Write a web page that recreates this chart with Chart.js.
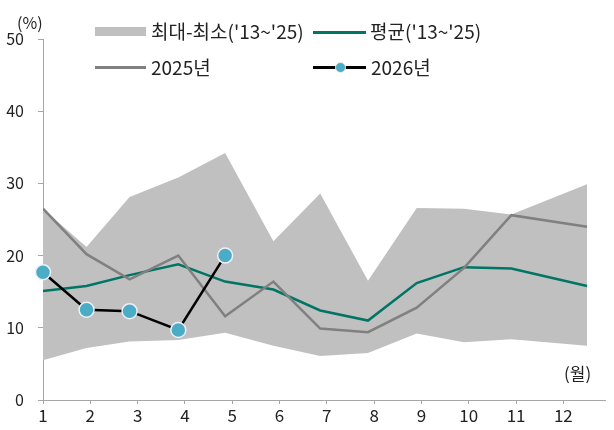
<!DOCTYPE html>
<html>
<head>
<meta charset="utf-8">
<script src="https://cdn.jsdelivr.net/npm/chart.js@4"></script>
<style>
    body { margin: 0; background: #fff; }
    #wrap { position: relative; width: 614px; height: 430px; font-family: "Noto Sans CJK KR", "Noto Sans", sans-serif; color: #222; }
    canvas { position: absolute; left: 0; top: 0; }
    .lbl { position: absolute; font-size: 19px; line-height: 20px; white-space: nowrap; }
    .sw { position: absolute; }
</style>
</head>
<body>
<div id="wrap">
    <canvas id="seasonChart" width="614" height="430"></canvas>
    <div class="lbl" style="left:17px; top:12px; font-size:16px;">(%)</div>
    <div class="lbl" style="left:564px; top:363px; font-size:17px;">(월)</div>

    <div class="sw" style="left:95px; top:27px; width:51px; height:9px; background:#c0c0c0;"></div>
    <div class="lbl" style="left:151px; top:21px;">최대-최소('13~'25)</div>
    <div class="sw" style="left:313px; top:31px; width:53px; height:3px; background:#007565;"></div>
    <div class="lbl" style="left:370px; top:21px;">평균('13~'25)</div>

    <div class="sw" style="left:95px; top:66px; width:51px; height:3px; background:#808080;"></div>
    <div class="lbl" style="left:151px; top:57px;">2025년</div>
    <div class="sw" style="left:313px; top:66px; width:53px; height:3px; background:#000;"></div>
    <div class="sw" style="left:335px; top:62px; width:9px; height:9px; border-radius:50%; background:#4bacc6; border:1px solid #eee;"></div>
    <div class="lbl" style="left:371px; top:57px;">2026년</div>
</div>
<script>
// month positions as plotted
const monthX = [1, 1.92, 2.83, 3.86, 4.85, 5.87, 6.86, 7.87, 8.9, 9.9, 10.9, 12.5];
const monthTicks = [1, 2, 3, 4, 5, 6, 7, 8, 9, 10, 11, 12];

const rangeMax = [26.5, 21.2, 28.1, 30.8, 34.2, 22.0, 28.6, 16.5, 26.6, 26.5, 25.7, 29.9];
const rangeMin = [5.5, 7.2, 8.1, 8.3, 9.3, 7.5, 6.1, 6.5, 9.2, 8.0, 8.4, 7.5];
const avgVals = [15.1, 15.8, 17.3, 18.8, 16.4, 15.3, 12.4, 11.0, 16.2, 18.4, 18.2, 15.8];
const y2025 = [26.5, 20.2, 16.7, 20.0, 11.6, 16.4, 9.9, 9.4, 12.8, 18.3, 25.6, 24.0];
const y2026 = [17.7, 12.5, 12.3, 9.7, 20.0];

const yTicks = [0, 10, 20, 30, 40, 50];

function pts(vals) {
    return vals.map((v, i) => ({ x: monthX[i], y: v }));
}

const axisColor = '#a6a6a6';
const tickFont = { family: '"Noto Sans CJK KR", "Noto Sans", sans-serif', size: 17 };

document.addEventListener("DOMContentLoaded", function () {
    const ctx = document.getElementById("seasonChart");

    new Chart(ctx, {
        type: "line",
        data: {
            datasets: [
                {
                    label: "2026년",
                    data: pts(y2026),
                    borderColor: '#000000',
                    borderWidth: 2.5,
                    pointBackgroundColor: '#4bacc6',
                    pointBorderColor: '#f0eef8',
                    pointBorderWidth: 1.5,
                    pointRadius: 7.5,
                    tension: 0,
                    clip: false,
                    order: 0
                },
                {
                    label: "평균('13~'25)",
                    data: pts(avgVals),
                    borderColor: '#007565',
                    borderWidth: 2.5,
                    pointRadius: 0,
                    tension: 0,
                    order: 2
                },
                {
                    label: "2025년",
                    data: pts(y2025),
                    borderColor: '#808080',
                    borderWidth: 2.5,
                    pointRadius: 0,
                    tension: 0,
                    order: 1
                },
                {
                    label: "max",
                    data: pts(rangeMax),
                    borderWidth: 0,
                    borderColor: 'rgba(0,0,0,0)',
                    backgroundColor: '#c0c0c0',
                    pointRadius: 0,
                    fill: '+1',
                    tension: 0,
                    order: 5
                },
                {
                    label: "min",
                    data: pts(rangeMin),
                    borderWidth: 0,
                    borderColor: 'rgba(0,0,0,0)',
                    pointRadius: 0,
                    fill: false,
                    tension: 0,
                    order: 6
                }
            ]
        },
        options: {
            responsive: false,
            animation: false,
            layout: { padding: { top: 39, right: 5, left: 0, bottom: 0 } },
            plugins: {
                legend: { display: false },
                tooltip: { enabled: false }
            },
            scales: {
                x: {
                    type: 'linear',
                    min: 1,
                    max: 12.88,
                    afterFit: function (s) { s.height = 30; },
                    afterBuildTicks: function (s) { s.ticks = monthTicks.map(v => ({ value: v })); },
                    border: { color: axisColor, width: 1 },
                    grid: { drawOnChartArea: false, drawTicks: true, tickLength: 4, tickColor: axisColor },
                    ticks: {
                        color: '#222',
                        font: tickFont,
                        padding: 1,
                        maxRotation: 0,
                        callback: v => String(v)
                    }
                },
                y: {
                    min: 0,
                    max: 50,
                    afterFit: function (s) { s.width = 43; },
                    afterBuildTicks: function (s) { s.ticks = yTicks.map(v => ({ value: v })); },
                    border: { color: axisColor, width: 1 },
                    grid: { drawOnChartArea: false, drawTicks: true, tickLength: 5, tickColor: axisColor },
                    ticks: {
                        color: '#222',
                        font: { family: tickFont.family, size: 16 },
                        padding: 14
                    }
                }
            }
        }
    });
});
</script>
</body>
</html>
